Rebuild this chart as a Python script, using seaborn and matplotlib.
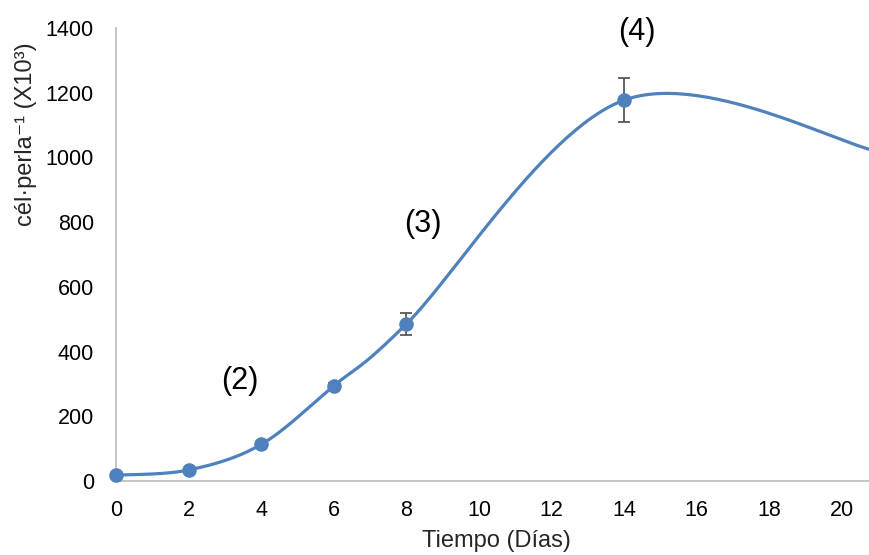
import numpy as np
import pandas as pd
import matplotlib
matplotlib.use("Agg")
import matplotlib.pyplot as plt
import seaborn as sns

# Data
dias = [0, 2, 4, 6, 8, 14]
celulas = [18, 34, 113, 294, 485, 1177]
error = [0, 0, 0, 10, 35, 68]
# Last point of the series lies just past the right edge of the axis
dia_extra = 21
valor_extra = 1018

etiquetas = ["(2)", "(3)", "(4)"]
etiqueta_x = [3.42, 8.46, 14.35]
etiqueta_y = [309, 794, 1387]

AZUL = "#4F81BD"


def excel_smooth(xs, ys, n=60):
    # Bezier smoothing like Excel's "smoothed line" (control points at 1/6)
    pts = np.column_stack([xs, ys]).astype(float)
    out = []
    for i in range(len(pts) - 1):
        p0, p3 = pts[i], pts[i + 1]
        prev = pts[i - 1] if i > 0 else p0
        nxt = pts[i + 2] if i + 2 < len(pts) else p3
        c1 = p0 + (p3 - prev) / 6
        c2 = p3 - (nxt - p0) / 6
        t = np.linspace(0, 1, n)[:, None]
        seg = ((1 - t) ** 3) * p0 + 3 * t * (1 - t) ** 2 * c1 + 3 * t ** 2 * (1 - t) * c2 + t ** 3 * p3
        out.append(seg if i == 0 else seg[1:])
    seg = np.vstack(out)
    return seg[:, 0], seg[:, 1]


sns.set_theme(style="white")
plt.rcParams["font.family"] = ["Liberation Sans", "DejaVu Sans"]

fig = plt.figure(figsize=(8.69, 5.55), dpi=100)
ax = fig.add_axes([116 / 869, 74 / 555, 1 - 116 / 869, 453 / 555])

cx, cy = excel_smooth(dias + [dia_extra], celulas + [valor_extra])
curva = pd.DataFrame({"x": cx, "y": cy})
sns.lineplot(data=curva, x="x", y="y", sort=False, ax=ax, color=AZUL, linewidth=2.3)

ax.errorbar(dias, celulas, yerr=error, fmt="none", ecolor="#595959",
            elinewidth=1.3, capsize=4.5, capthick=1.3, zorder=3)
puntos = pd.DataFrame({"dia": dias, "cel": celulas})
sns.scatterplot(data=puntos, x="dia", y="cel", ax=ax, color=AZUL, s=110,
                edgecolor=AZUL, linewidth=0, zorder=4, clip_on=False)

for txt, x, y in zip(etiquetas, etiqueta_x, etiqueta_y):
    ax.text(x, y, txt, ha="center", va="center", fontsize=22, color="black")

ax.set_xlim(0, 20.75)
ax.set_ylim(0, 1400)
ax.set_xticks(range(0, 21, 2))
ax.set_yticks(range(0, 1401, 200))
ax.tick_params(axis="both", length=0, labelsize=15.5, colors="black")
ax.tick_params(axis="x", pad=14)
ax.tick_params(axis="y", pad=16)

for s in ["top", "right"]:
    ax.spines[s].set_visible(False)
for s in ["left", "bottom"]:
    ax.spines[s].set_color("#BFBFBF")
    ax.spines[s].set_linewidth(1.3)

ax.set_xlabel("")
ax.set_ylabel("")
fig.text(496 / 869, 1 - 541 / 555, "Tiempo (Días)", ha="center", va="center", fontsize=17)
fig.text(26 / 869, 1 - 134 / 555, "cél·perla⁻¹ (X10³)", ha="center", va="center",
         rotation=90, fontsize=17)

fig.savefig("out.png", dpi=100)
